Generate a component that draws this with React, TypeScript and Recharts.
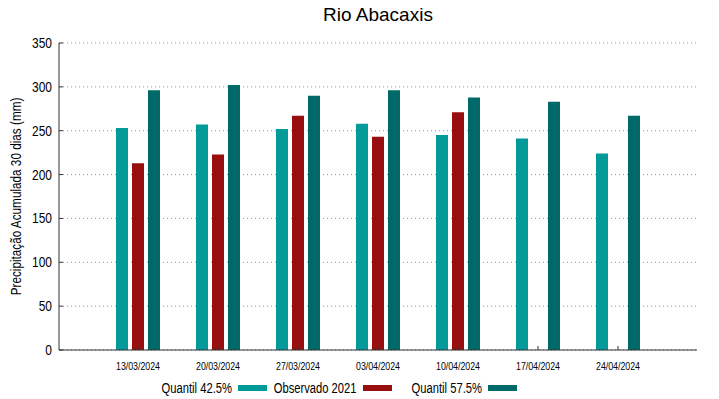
import { BarChart, Bar, XAxis, YAxis, CartesianGrid, Legend } from "recharts";

const dates = ["13/03/2024", "20/03/2024", "27/03/2024", "03/04/2024", "10/04/2024", "17/04/2024", "24/04/2024"];
const quantil425 = [253, 257, 252, 258, 245, 241, 224];
const observado2021 = [213, 223, 267, 243, 271, null, null];
const quantil575 = [296, 302, 290, 296, 288, 283, 267];
const yTicks = [0, 50, 100, 150, 200, 250, 300, 350];

const SERIES = [
  { key: "q425", name: "Quantil 42.5%", color: "#009b98" },
  { key: "obs", name: "Observado 2021", color: "#990e0e" },
  { key: "q575", name: "Quantil 57.5%", color: "#006a68" },
];

const data = dates.map((date, i) => ({
  date,
  q425: quantil425[i],
  obs: observado2021[i],
  q575: quantil575[i],
}));

const FONT = '"Liberation Sans", Arial, sans-serif';
const NARROW = 0.8; // text in the reference is a narrow sans
const AXIS = "#333";

const XTick = ({ x, y, payload }: any) => (
  <g transform={`translate(${x},${y + 22}) scale(${NARROW},1)`}>
    <text x={0} y={0} textAnchor="middle" fill="#000" fontSize={11} fontFamily={FONT}>
      {payload.value}
    </text>
  </g>
);

const YTick = ({ x, y, payload }: any) => (
  <g transform={`translate(${x},${y + 5}) scale(${NARROW},1)`}>
    <text x={0} y={0} textAnchor="end" fill="#000" fontSize={15} fontFamily={FONT}>
      {payload.value}
    </text>
  </g>
);

const YLabel = ({ viewBox }: any) => {
  const cy = viewBox.y + viewBox.height / 2;
  return (
    <g transform={`translate(${viewBox.x + 21},${cy}) rotate(-90) scale(0.84,1)`}>
      <text x={0} y={0} textAnchor="middle" fill="#000" fontSize={14} fontFamily={FONT}>
        Precipitação Acumulada 30 dias (mm)
      </text>
    </g>
  );
};

const LegendContent = () => (
  <div style={{ display: "flex", fontFamily: FONT, fontSize: 14, color: "#000", lineHeight: "16px" }}>
    {SERIES.map((s) => (
      <div key={s.key} style={{ width: 125, display: "flex", alignItems: "center", whiteSpace: "nowrap" }}>
        <span style={{ width: 90, marginRight: 6, display: "flex", justifyContent: "flex-end" }}>
          <span style={{ display: "inline-block", transform: `scaleX(${NARROW})`, transformOrigin: "right center" }}>
            {s.name}
          </span>
        </span>
        <span style={{ width: 29, height: 6, background: s.color, display: "inline-block" }} />
      </div>
    ))}
  </div>
);

export default function App() {
  return (
    <div style={{ position: "absolute", left: 0, top: 0, width: 719, height: 399, background: "#fff" }}>
      <div
        style={{
          position: "absolute",
          left: 0,
          width: 756,
          top: 5,
          textAlign: "center",
          fontFamily: FONT,
          fontSize: 19,
          lineHeight: "19px",
          color: "#000",
        }}
      >
        Rio Abacaxis
      </div>
      <BarChart
        width={719}
        height={399}
        data={data}
        margin={{ top: 43, right: 22, bottom: 19, left: 0 }}
        barSize={12}
        barGap={4}
      >
        <CartesianGrid vertical={false} stroke="#999" strokeDasharray="1 3" />
        <XAxis
          dataKey="date"
          padding={{ left: 39, right: 39 }}
          height={30}
          stroke={AXIS}
          tickSize={-4}
          interval={0}
          tick={<XTick />}
        />
        <XAxis
          xAxisId="top"
          orientation="top"
          dataKey="date"
          padding={{ left: 39, right: 39 }}
          height={0}
          stroke={AXIS}
          tickSize={-4}
          interval={0}
          tick={false}
        />
        <YAxis
          width={59}
          domain={[0, 350]}
          ticks={yTicks}
          stroke={AXIS}
          tickSize={-4}
          tickMargin={11}
          tick={<YTick />}
          label={<YLabel />}
        />
        <YAxis
          yAxisId="right"
          orientation="right"
          width={0}
          domain={[0, 350]}
          ticks={yTicks}
          stroke={AXIS}
          tickSize={-4}
          tick={false}
        />
        <Legend
          layout="horizontal"
          verticalAlign="middle"
          content={<LegendContent />}
          wrapperStyle={{ position: "absolute", top: 380, left: 142, width: 375 }}
        />
        {SERIES.map((s) => (
          <Bar key={s.key} dataKey={s.key} name={s.name} fill={s.color} isAnimationActive={false} />
        ))}
      </BarChart>
    </div>
  );
}
